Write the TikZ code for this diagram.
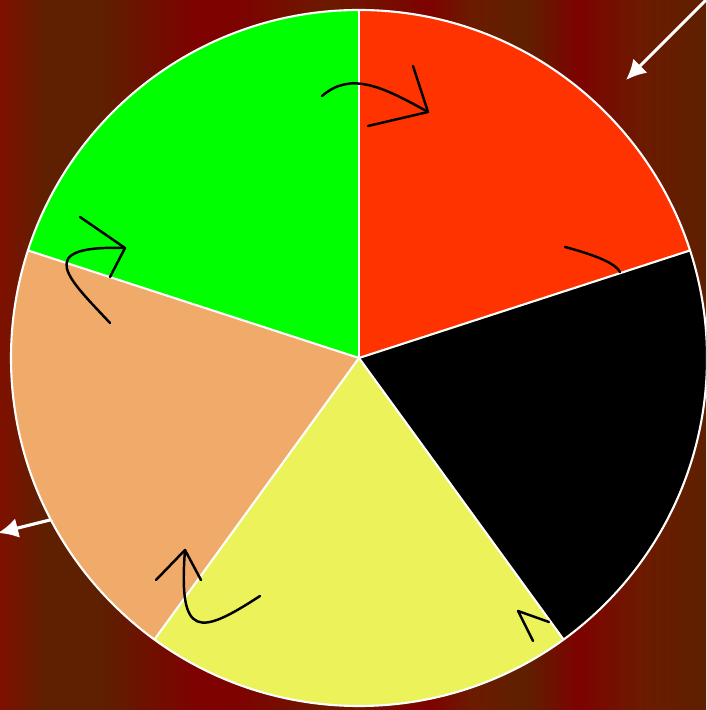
\documentclass[tikz,border=0pt]{standalone}
\usepackage{tikz}
\usetikzlibrary{arrows.meta, calc}

\definecolor{bgred}{HTML}{7E1000}
\definecolor{bgbrown}{HTML}{5E2000}
\definecolor{bgdeep}{HTML}{7E0200}
\definecolor{bgrust}{HTML}{6C1A00}
\definecolor{slicered}{HTML}{FF3300}
\definecolor{slicegreen}{HTML}{00FF00}
\definecolor{slicesand}{HTML}{F0AA6A}
\definecolor{sliceyellow}{HTML}{ECF25A}

\begin{document}
\begin{tikzpicture}[
    x=0.01cm, y=0.01cm,
    slice/.style={draw=white, line width=0.6pt},
    turn/.style={draw=black, line width=0.7pt, line cap=round, line join=round},
    pointer/.style={draw=white, line width=0.9pt, -{Latex[length=0.2cm, width=0.2cm]}},
  ]
    \useasboundingbox (0,0) rectangle (706,710);
    \clip (0,0) rectangle (706,710);
    % striped backdrop
    \foreach \xa/\xb/\ca/\cb in {0/45/bgred/bgbrown, 44/100/bgbrown/bgbrown,
        99/195/bgbrown/bgdeep, 194/235/bgdeep/bgdeep, 234/330/bgdeep/bgrust,
        329/430/bgrust/bgdeep, 429/470/bgdeep/bgrust, 469/527/bgrust/bgbrown,
        526/578/bgbrown/bgdeep, 577/640/bgdeep/bgrust, 639/706/bgrust/bgbrown}
      \fill[left color=\ca, right color=\cb] (\xa,0) rectangle (\xb,710);

    % the wheel
    \coordinate (hub) at (359,352);
    \fill[slicered]    (hub) -- ++(18:348)  arc (18:90:348)   -- cycle;
    \fill[slicegreen]  (hub) -- ++(90:348)  arc (90:162:348)  -- cycle;
    \fill[slicesand]   (hub) -- ++(162:348) arc (162:234:348) -- cycle;
    \fill[sliceyellow] (hub) -- ++(234:348) arc (234:306:348) -- cycle;
    \fill[black]       (hub) -- ++(306:348) arc (306:378:348) -- cycle;
    \foreach \a in {18, 90, 162, 234, 306}
      \draw[slice] (hub) -- ++(\a:348);
    \draw[slice] (hub) circle (348);

    % turning arrows between slices
    \coordinate (topfrom) at (322,614);
    \coordinate (toptip) at (428,598);
    \draw[turn] (topfrom) .. controls (350,638) and (380,625) .. (toptip);
    \draw[turn] (413,644) -- (toptip) -- (368,584);

    \coordinate (rightfrom) at (565,463);
    \coordinate (rightcut) at (620,438);
    \draw[turn] (rightfrom) .. controls (595,455) and (615,447) .. (rightcut);
    \coordinate (lowtip) at (518,99);
    \draw[turn] (549,88) -- (lowtip) -- (533,69);

    \coordinate (botfrom) at (260,114);
    \coordinate (bottip) at (185,160);
    \draw[turn] (botfrom) .. controls (200,75) and (178,70) .. (bottip);
    \draw[turn] (156,130) -- (bottip) -- (201,130);

    \coordinate (leftfrom) at (110,387);
    \coordinate (lefttip) at (125,462);
    \draw[turn] (leftfrom) .. controls (70,430) and (30,465) .. (lefttip);
    \draw[turn] (80,493) -- (lefttip) -- (110,433);

    % white pointers
    \coordinate (corner) at (712,716);
    \coordinate (cornerend) at (626,630);
    \draw[pointer] (corner) -- (cornerend);
    \coordinate (rim) at ($(hub)+(207.7:348)$);
    \coordinate (rimend) at (-2,177);
    \draw[pointer] (rim) -- (rimend);
  \end{tikzpicture}
\end{document}
